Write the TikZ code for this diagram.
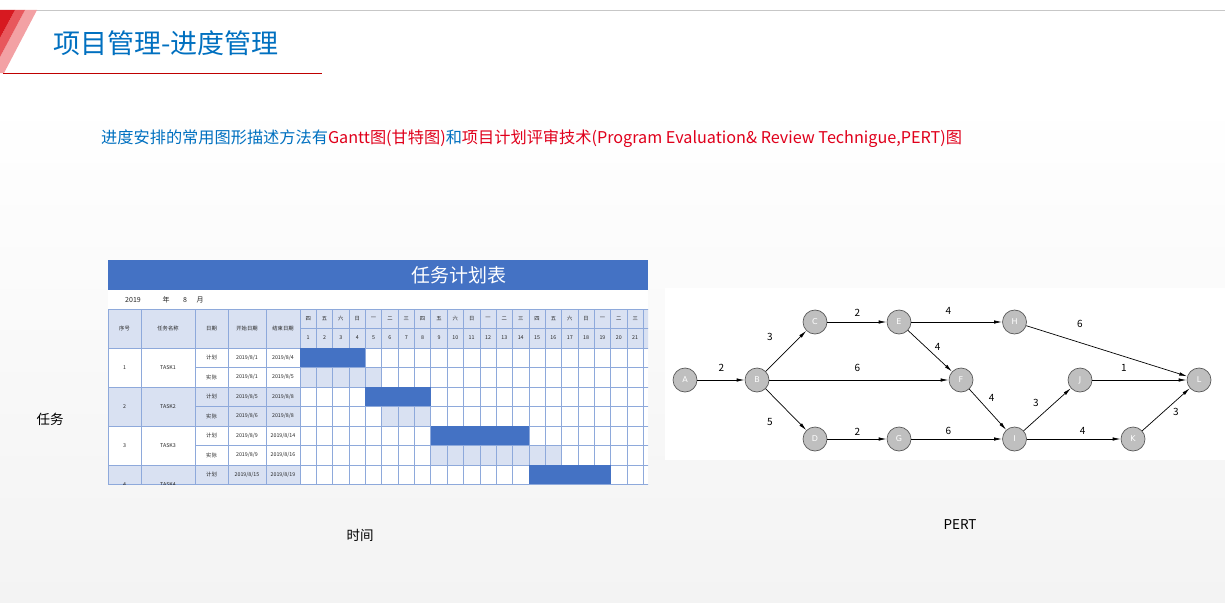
\documentclass[tikz,border=0pt]{standalone}
\usepackage{fontspec}
\setmainfont{Noto Sans CJK SC}
\newfontfamily\pertfont{DejaVu Sans}
\usetikzlibrary{arrows.meta}
\definecolor{ttlblue}{HTML}{0070C0}
\definecolor{txtred}{HTML}{E0001B}
\definecolor{gbar}{HTML}{4472C4}
\definecolor{glight}{HTML}{D9E1F2}
\definecolor{ggrid}{HTML}{8EA9DB}
\definecolor{stripeA}{HTML}{D71920}
\definecolor{stripeB}{HTML}{E8585D}
\definecolor{stripeC}{HTML}{F3A1A4}
\definecolor{bgbot}{HTML}{F3F3F3}
\definecolor{pnode}{HTML}{BFBFBF}
\definecolor{pedge}{HTML}{595959}
\tikzset{
  tiny/.style={inner sep=0pt, font=\fontsize{5.3}{6}\selectfont, text=black!85},
  pnodestyle/.style={circle, draw=pedge, line width=0.7pt, fill=pnode, minimum size=24pt, inner sep=0pt, text=white, font=\pertfont\fontsize{8}{9}\selectfont},
  parrow/.style={line width=0.7pt, -{Latex[length=8pt,width=3.4pt]}},
  plabel/.style={inner sep=0pt, font=\fontsize{10}{11}\selectfont},
  captext/.style={inner sep=0pt, font=\fontsize{13.5}{15}\selectfont, text=black}
}
\begin{document}
\begin{tikzpicture}[x=1pt,y=-1pt]
\useasboundingbox (0,0) rectangle (1225,602);
% background
\fill[white] (0,0) rectangle (1225,100);
\shade[top color=white, bottom color=bgbot] (0,100) rectangle (1225,602);
% top line and stripes
\draw[black!22, line width=0.8pt] (0,10) -- (1225,10);
\fill[stripeC] (25,10) -- (37,10) -- (4,73) -- (0,73) -- (0,57) -- cycle;
\fill[stripeB] (15,10) -- (25,10) -- (0,57) -- (0,38) -- cycle;
\fill[stripeA] (0,10) -- (15,10) -- (0,38) -- cycle;
\draw[red!75!black, line width=1pt] (3,73) -- (322,73);
% title and subtitle
\node[anchor=west, inner sep=0pt, text=ttlblue, font=\fontsize{27}{31}\selectfont] (title) at (53,43) {项目管理-进度管理};
\node[anchor=west, inner sep=0pt, font=\fontsize{16.2}{19}\selectfont] (sub) at (101,139)
  {\textcolor{ttlblue}{进度安排的常用图形描述方法有}\textcolor{txtred}{Gantt图(甘特图)}\textcolor{ttlblue}{和}\textcolor{txtred}{项目计划评审技术(Program Evaluation\& Review Technigue,PERT)图}};

% ================= Gantt table =================
\begin{scope}
\clip (108,260) rectangle (648,484.5);
\fill[white] (108,260) rectangle (648,485);
\fill[gbar] (108,260) rectangle (648,290);
\node[inner sep=0pt, text=white, font=\fontsize{19}{20}\selectfont] (gtitle) at (459,275.5) {任务计划表};
\node[tiny, font=\fontsize{7}{8}\selectfont] (yr) at (133,300) {2019};
\node[tiny, font=\fontsize{7}{8}\selectfont] (nian) at (166,300) {年};
\node[tiny, font=\fontsize{7}{8}\selectfont] (mo) at (185,300) {8};
\node[tiny, font=\fontsize{7}{8}\selectfont] (yue) at (200,300) {月};
% header fill
\fill[glight] (108,309) rectangle (670,348);
% shaded task rows
\fill[glight] (108,387) rectangle (300,426);
\fill[glight] (108,465) rectangle (300,504);
% light (actual) bars
\foreach \ry/\a/\b in {367.5/1/5, 406.5/6/8, 445.5/9/16}
  \fill[glight] ({300+(\a-1)*16.35},\ry) rectangle ({300+\b*16.35},{\ry+19.5});
% grid
\begin{scope}[ggrid, line width=0.7pt]
\foreach \yy in {309,348,387,426,465,484.3}
  \draw (108,\yy) -- (670,\yy);
\draw (300,328) -- (670,328);
\foreach \yy in {367.5,406.5,445.5}
  \draw (195,\yy) -- (670,\yy);
\foreach \xx in {108.4,141,195,228,266,300}
  \draw (\xx,309) -- (\xx,490);
\foreach \k in {1,...,22}
  \draw ({300+\k*16.35},309) -- ({300+\k*16.35},490);
\end{scope}
% plan bars (cover the grid)
\foreach \ry/\a/\b in {348/1/4, 387/5/8, 426/9/14, 465/15/19}
  \fill[gbar] ({300+(\a-1)*16.35},{\ry+0.4}) rectangle ({300+\b*16.35},{\ry+19.1});
% header texts
\node[tiny] (h1) at (124.5,328.5) {序号};
\node[tiny] (h2) at (168,328.5) {任务名称};
\node[tiny] (h3) at (211.5,328.5) {日期};
\node[tiny] (h4) at (247,328.5) {开始日期};
\node[tiny] (h5) at (283,328.5) {结束日期};
\foreach \w [count=\i] in {四,五,六,日,一,二,三,四,五,六,日,一,二,三,四,五,六,日,一,二,三}{
  \node[tiny] (wd\i) at ({300+(\i-0.5)*16.35},318.5) {\w};
  \node[tiny] (dn\i) at ({300+(\i-0.5)*16.35},338) {\i};
}
% data texts
\node[tiny] (n1) at (124.5,367.5) {1};
\node[tiny] (t1) at (168,367.5) {TASK1};
\node[tiny] (n2) at (124.5,406.5) {2};
\node[tiny] (t2) at (168,406.5) {TASK2};
\node[tiny] (n3) at (124.5,445.5) {3};
\node[tiny] (t3) at (168,445.5) {TASK3};
\node[tiny] (n4) at (124.5,484.5) {4};
\node[tiny] (t4) at (168,484.5) {TASK4};
\foreach \ry/\kind [count=\j] in {357.75/计划,377.25/实际,396.75/计划,416.25/实际,435.75/计划,455.25/实际,474.75/计划}
  \node[tiny] (kd\j) at (211.5,\ry) {\kind};
\node[tiny] (s1p) at (247,357.75) {2019/8/1};
\node[tiny] (e1p) at (283,357.75) {2019/8/4};
\node[tiny] (s1a) at (247,377.25) {2019/8/1};
\node[tiny] (e1a) at (283,377.25) {2019/8/5};
\node[tiny] (s2p) at (247,396.75) {2019/8/5};
\node[tiny] (e2p) at (283,396.75) {2019/8/8};
\node[tiny] (s2a) at (247,416.25) {2019/8/6};
\node[tiny] (e2a) at (283,416.25) {2019/8/8};
\node[tiny] (s3p) at (247,435.75) {2019/8/9};
\node[tiny] (e3p) at (283,435.75) {2019/8/14};
\node[tiny] (s3a) at (247,455.25) {2019/8/9};
\node[tiny] (e3a) at (283,455.25) {2019/8/16};
\node[tiny] (s4p) at (247,474.75) {2019/8/15};
\node[tiny] (e4p) at (283,474.75) {2019/8/19};
\end{scope}

% ================= PERT =================
\fill[white] (665,288) rectangle (1225,460);
\node[pnodestyle] (A) at (685,380) {A};
\node[pnodestyle] (B) at (757,380) {B};
\node[pnodestyle] (C) at (815,322) {C};
\node[pnodestyle] (E) at (899,322) {E};
\node[pnodestyle] (H) at (1014.5,322) {H};
\node[pnodestyle] (F) at (961,380) {F};
\node[pnodestyle] (J) at (1080,380) {J};
\node[pnodestyle] (L) at (1199,380) {L};
\node[pnodestyle] (D) at (815,439) {D};
\node[pnodestyle] (G) at (899,439) {G};
\node[pnodestyle] (I) at (1014.5,439) {I};
\node[pnodestyle] (K) at (1133,439) {K};
\draw[parrow] (A) -- (B);
\draw[parrow] (B) -- (C);
\draw[parrow] (C) -- (E);
\draw[parrow] (E) -- (H);
\draw[parrow] (B) -- (F);
\draw[parrow] (E) -- (F);
\draw[parrow] (H) -- (L);
\draw[parrow] (F) -- (I);
\draw[parrow] (J) -- (L);
\draw[parrow] (I) -- (J);
\draw[parrow] (I) -- (K);
\draw[parrow] (B) -- (D);
\draw[parrow] (D) -- (G);
\draw[parrow] (G) -- (I);
\draw[parrow] (K) -- (L);
\node[plabel] (lAB) at (721.5,367.5) {2};
\node[plabel] (lBC) at (770,336.5) {3};
\node[plabel] (lCE) at (857.3,313) {2};
\node[plabel] (lBF) at (857.3,368) {6};
\node[plabel] (lEF) at (937.7,346.5) {4};
\node[plabel] (lBD) at (770,421.5) {5};
\node[plabel] (lDG) at (857.3,431.5) {2};
\node[plabel] (lEH) at (948.3,311) {4};
\node[plabel] (lHL) at (1080,324) {6};
\node[plabel] (lFI) at (991.7,398) {4};
\node[plabel] (lJL) at (1124,367.5) {1};
\node[plabel] (lIJ) at (1036,403) {3};
\node[plabel] (lGI) at (948.3,430.5) {6};
\node[plabel] (lIK) at (1082.7,430.5) {4};
\node[plabel] (lKL) at (1176,411.5) {3};

% captions
\node[captext] (capTask) at (50,419) {任务};
\node[captext] (capTime) at (360,535) {时间};
\node[captext] (capPert) at (960,525) {PERT};
\end{tikzpicture}
\end{document}
